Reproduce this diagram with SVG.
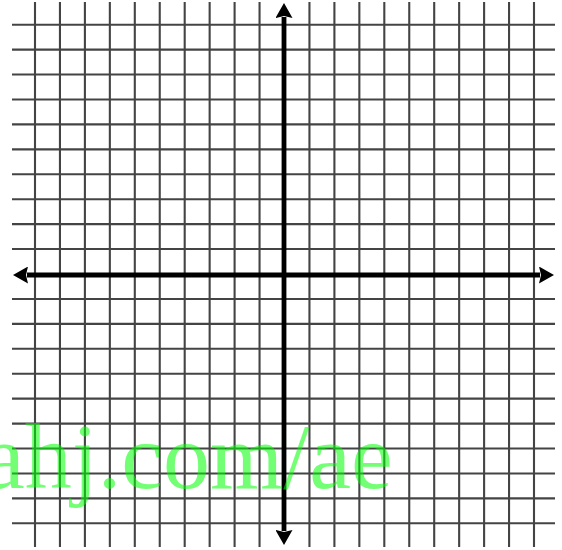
<svg xmlns="http://www.w3.org/2000/svg" width="562" height="550" viewBox="0 0 562 550">
<style>
.g line{stroke:#444;stroke-width:2.1}
.ax{stroke:#000;stroke-width:4.8;fill:none}
.wm{font-family:"Liberation Serif","Times New Roman",serif;font-size:94px;fill:#00ff00;fill-opacity:0.55}
</style>
<defs>
<marker id="ah" markerUnits="userSpaceOnUse" viewBox="0 0 15 17" markerWidth="15" markerHeight="17" refX="1" refY="8.5" orient="auto-start-reverse">
<path d="M0,0 L15,8.5 L0,17 L2,8.5 Z" fill="#000"/>
</marker>
</defs>
<rect width="562" height="550" fill="#fff"/>
<g id="grid" class="g">
<line x1="35" y1="2" x2="35" y2="547"/>
<line x1="59.95" y1="2" x2="59.95" y2="547"/>
<line x1="84.9" y1="2" x2="84.9" y2="547"/>
<line x1="109.85" y1="2" x2="109.85" y2="547"/>
<line x1="134.8" y1="2" x2="134.8" y2="547"/>
<line x1="159.75" y1="2" x2="159.75" y2="547"/>
<line x1="184.7" y1="2" x2="184.7" y2="547"/>
<line x1="209.65" y1="2" x2="209.65" y2="547"/>
<line x1="234.6" y1="2" x2="234.6" y2="547"/>
<line x1="259.55" y1="2" x2="259.55" y2="547"/>
<line x1="309.45" y1="2" x2="309.45" y2="547"/>
<line x1="334.4" y1="2" x2="334.4" y2="547"/>
<line x1="359.35" y1="2" x2="359.35" y2="547"/>
<line x1="384.3" y1="2" x2="384.3" y2="547"/>
<line x1="409.25" y1="2" x2="409.25" y2="547"/>
<line x1="434.2" y1="2" x2="434.2" y2="547"/>
<line x1="459.15" y1="2" x2="459.15" y2="547"/>
<line x1="484.1" y1="2" x2="484.1" y2="547"/>
<line x1="509.05" y1="2" x2="509.05" y2="547"/>
<line x1="534" y1="2" x2="534" y2="547"/>
<line x1="12" y1="24.7" x2="555" y2="24.7"/>
<line x1="12" y1="49.63" x2="555" y2="49.63"/>
<line x1="12" y1="74.56" x2="555" y2="74.56"/>
<line x1="12" y1="99.49" x2="555" y2="99.49"/>
<line x1="12" y1="124.42" x2="555" y2="124.42"/>
<line x1="12" y1="149.35" x2="555" y2="149.35"/>
<line x1="12" y1="174.28" x2="555" y2="174.28"/>
<line x1="12" y1="199.21" x2="555" y2="199.21"/>
<line x1="12" y1="224.14" x2="555" y2="224.14"/>
<line x1="12" y1="249.07" x2="555" y2="249.07"/>
<line x1="12" y1="298.93" x2="555" y2="298.93"/>
<line x1="12" y1="323.86" x2="555" y2="323.86"/>
<line x1="12" y1="348.79" x2="555" y2="348.79"/>
<line x1="12" y1="373.72" x2="555" y2="373.72"/>
<line x1="12" y1="398.65" x2="555" y2="398.65"/>
<line x1="12" y1="423.58" x2="555" y2="423.58"/>
<line x1="12" y1="448.51" x2="555" y2="448.51"/>
<line x1="12" y1="473.44" x2="555" y2="473.44"/>
<line x1="12" y1="498.37" x2="555" y2="498.37"/>
<line x1="12" y1="523.3" x2="555" y2="523.3"/>
</g>
<g id="connectors">
<line id="x-axis" class="ax" x1="27" y1="275" x2="540" y2="275" marker-start="url(#ah)" marker-end="url(#ah)"/>
<line id="y-axis" class="ax" x1="284" y1="17" x2="284" y2="531" marker-start="url(#ah)" marker-end="url(#ah)"/>
</g>
<text class="wm" x="-17" y="488">ahj.com/ae</text>
</svg>
